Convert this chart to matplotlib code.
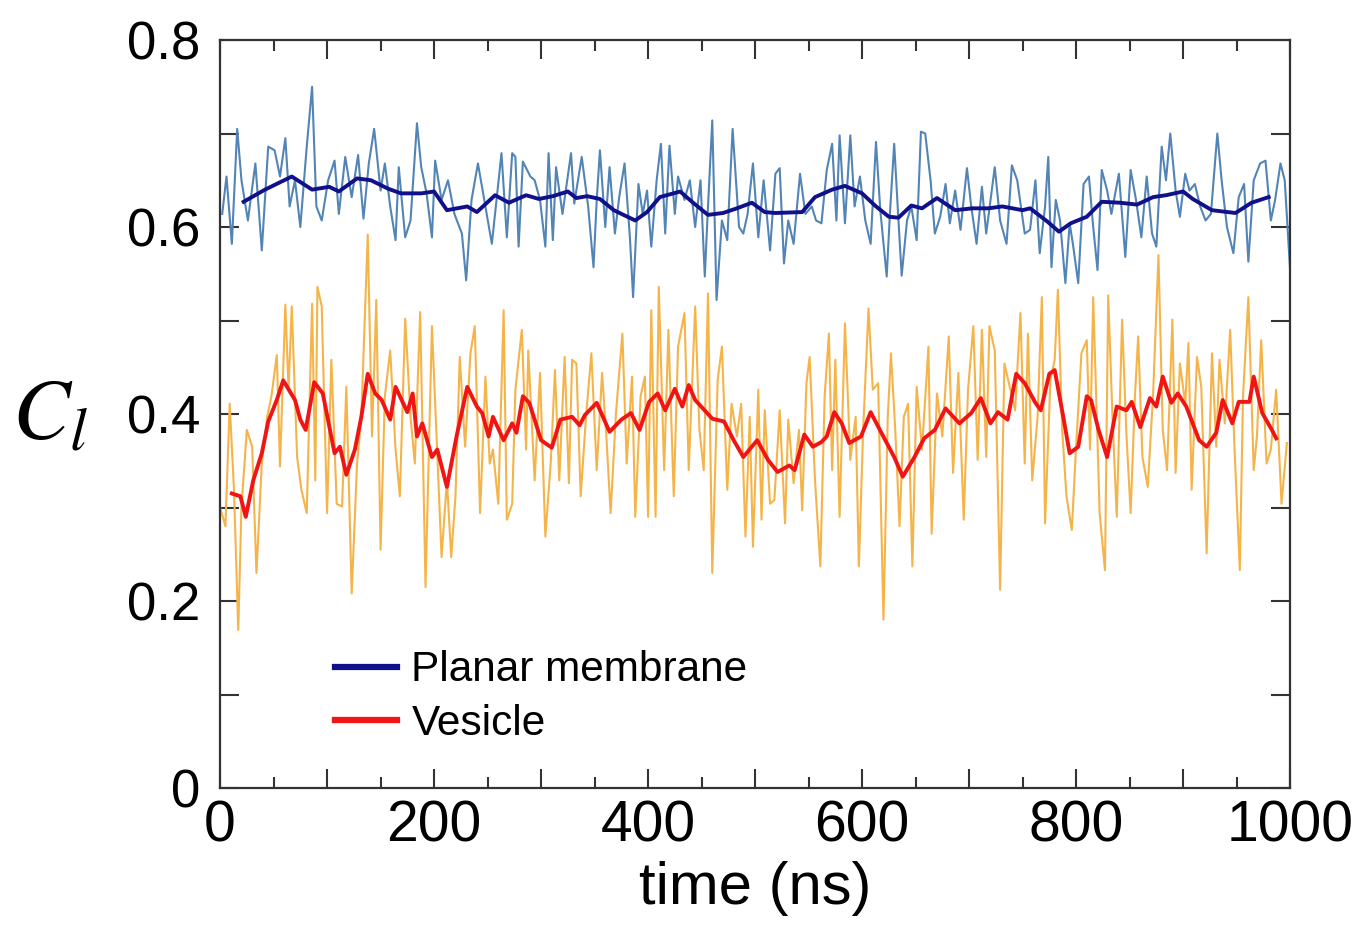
import matplotlib
matplotlib.use("Agg")
import matplotlib.pyplot as plt
from matplotlib.ticker import MultipleLocator, FuncFormatter

# ---------------- data ----------------
planar_t = [2, 6, 11, 16, 20, 26, 33, 39, 45, 51, 56, 61, 65, 70, 75, 81, 86, 90, 95, 101,
            107, 111, 117, 123, 129, 134, 139, 144, 150, 154, 159, 164, 167, 173, 178, 184, 188, 193, 198, 201,
            207, 213, 219, 226, 230, 235, 241, 248, 254,
            263, 268, 273, 276, 279, 283, 290, 294, 299, 304, 307, 311, 314, 320, 328, 331, 338, 344, 349, 352,
            355, 360, 364, 369, 373, 378, 383, 386, 391, 395, 399, 403, 408, 412, 416, 420, 425, 428, 434, 439,
            444, 449, 453, 456, 460, 464, 469, 474, 479, 485, 489, 493, 498, 503,
            508, 514, 519, 523, 527, 531, 536, 542, 547, 553, 557, 562, 567, 572, 576, 579, 584, 589, 593, 598,
            603, 608, 613, 617, 623, 626, 630, 634, 637, 642, 646, 651, 655, 659, 664, 668, 673, 678, 682, 687,
            692, 698, 702, 707, 712, 716, 724, 729, 735, 740, 745,
            752, 757, 762, 766, 771, 774, 777, 781, 785, 790, 794, 797, 802, 807, 812, 816, 820, 824, 829, 833,
            840, 846, 851, 856, 861, 866, 871, 875, 880, 884, 888, 893, 897, 902, 906, 911, 916, 921, 926, 932,
            936, 941, 947, 952, 957, 961, 966, 972, 977, 982, 986, 991, 995, 1000]
planar_raw = [0.614, 0.654, 0.582, 0.705, 0.650, 0.607, 0.668, 0.575, 0.686, 0.682, 0.654, 0.695, 0.622, 0.650, 0.600, 0.686, 0.750, 0.622, 0.607, 0.650,
              0.671, 0.614, 0.675, 0.632, 0.677, 0.609, 0.668, 0.705, 0.639, 0.668, 0.622, 0.586, 0.664, 0.589, 0.607, 0.711, 0.664, 0.636, 0.589, 0.671,
              0.629, 0.650, 0.614, 0.593, 0.543, 0.629, 0.668, 0.622, 0.582,
              0.679, 0.589, 0.679, 0.675, 0.579, 0.670, 0.654, 0.650, 0.629, 0.579, 0.679, 0.586, 0.664, 0.614, 0.679, 0.625, 0.675, 0.622, 0.557, 0.629,
              0.682, 0.600, 0.664, 0.593, 0.632, 0.668, 0.589, 0.525, 0.646, 0.614, 0.639, 0.579, 0.650, 0.689, 0.593, 0.687, 0.614, 0.654, 0.629, 0.650,
              0.600, 0.650, 0.547, 0.622, 0.714, 0.522, 0.607, 0.586, 0.705, 0.600, 0.593, 0.614, 0.668, 0.589,
              0.650, 0.575, 0.657, 0.663, 0.561, 0.607, 0.582, 0.657, 0.614, 0.622, 0.607, 0.604, 0.661, 0.689, 0.607, 0.698, 0.604, 0.698, 0.622, 0.654,
              0.607, 0.582, 0.691, 0.618, 0.547, 0.614, 0.689, 0.607, 0.548, 0.607, 0.622, 0.586, 0.702, 0.700, 0.650, 0.593, 0.611, 0.646, 0.604, 0.639,
              0.597, 0.663, 0.622, 0.582, 0.643, 0.593, 0.664, 0.607, 0.582, 0.666, 0.650,
              0.593, 0.597, 0.650, 0.572, 0.622, 0.675, 0.557, 0.629, 0.607, 0.540, 0.604, 0.582, 0.540, 0.646, 0.654, 0.600, 0.554, 0.661, 0.639, 0.614,
              0.657, 0.568, 0.661, 0.629, 0.589, 0.654, 0.593, 0.579, 0.686, 0.650, 0.700, 0.639, 0.611, 0.657, 0.639, 0.646, 0.622, 0.607, 0.614, 0.700,
              0.650, 0.600, 0.572, 0.632, 0.646, 0.563, 0.650, 0.668, 0.671, 0.607, 0.629, 0.668, 0.650, 0.554]

planar_avg_t = [22, 42, 67, 86, 102, 111, 128, 141, 157, 169, 188, 200, 212, 231, 240, 257, 270, 286, 298, 311,
                325, 333, 343, 355, 368, 377, 388, 399, 411, 430, 442, 456, 470, 483, 497, 509, 519, 544, 556, 572,
                584, 600, 612, 625, 634, 646, 656, 670, 687, 703, 718, 731, 750, 757, 773, 784, 795, 810, 824, 841,
                857, 872, 884, 900, 909, 927, 949, 964, 980]
planar_avg = [0.627, 0.640, 0.654, 0.640, 0.643, 0.638, 0.652, 0.650, 0.641, 0.636, 0.636, 0.638, 0.618, 0.622, 0.616, 0.634, 0.626, 0.634, 0.630, 0.633,
              0.638, 0.631, 0.633, 0.630, 0.618, 0.613, 0.607, 0.616, 0.632, 0.638, 0.626, 0.613, 0.615, 0.620, 0.626, 0.616, 0.615, 0.616, 0.632, 0.640,
              0.644, 0.636, 0.623, 0.611, 0.610, 0.623, 0.620, 0.631, 0.618, 0.620, 0.620, 0.622, 0.618, 0.620, 0.606, 0.595, 0.604, 0.611, 0.627, 0.626,
              0.624, 0.632, 0.634, 0.638, 0.630, 0.618, 0.615, 0.626, 0.632]

vesicle_t = [0, 5, 9, 13, 17, 20, 25, 30, 34, 39, 44, 48, 53, 56, 61, 64, 67, 72, 76, 81,
             86, 89, 91, 95, 100, 104, 109, 114, 118, 123, 128, 132, 138, 142, 146, 150, 154, 159, 164, 168,
             173, 178, 182, 187, 192, 198, 202, 207, 212, 216, 220, 224, 229, 234, 238, 243, 248, 252,
             255, 260, 265, 268, 273, 276, 282, 286, 288, 294, 299, 304, 309, 313, 317, 322, 326, 329, 333, 337,
             342, 347, 352, 357, 361, 365, 370, 376, 380, 385, 388, 393, 397, 400, 403, 407, 410, 415, 419, 424,
             428, 434, 438, 444, 448, 452, 456, 460, 465, 469, 474, 478, 483, 487, 491, 495, 498, 503,
             506, 509, 514, 518, 523, 528, 531, 536, 541, 544, 548, 551, 556, 561, 565, 569, 572, 575, 579, 584,
             589, 594, 597, 601, 606, 610, 615, 620, 624, 627, 631, 635, 639, 643, 647, 651, 656, 662, 665, 670,
             675, 681, 685, 690, 695, 699, 704, 708, 712, 716, 719, 724, 729, 733, 738, 743, 748,
             752, 755, 759, 764, 768, 771, 776, 780, 783, 787, 791, 796, 800, 805, 810, 813, 816, 822, 827, 830,
             834, 838, 843, 847, 851, 855, 858, 862, 867, 872, 877, 881, 885, 890, 893, 897, 902, 905, 908, 913,
             917, 922, 927, 931, 934, 939, 944, 948, 953, 956, 961, 966, 969, 973, 978, 982, 987, 992, 997]
vesicle_raw = [0.300, 0.280, 0.411, 0.319, 0.169, 0.301, 0.383, 0.365, 0.230, 0.347, 0.397, 0.419, 0.463, 0.344, 0.517, 0.426, 0.515, 0.354, 0.319, 0.294,
               0.518, 0.329, 0.536, 0.515, 0.294, 0.458, 0.304, 0.301, 0.429, 0.208, 0.347, 0.397, 0.592, 0.376, 0.522, 0.255, 0.419, 0.468, 0.362, 0.312,
               0.502, 0.397, 0.347, 0.509, 0.215, 0.494, 0.383, 0.247, 0.329, 0.247, 0.312, 0.461, 0.365, 0.465, 0.494, 0.294, 0.440, 0.347,
               0.362, 0.304, 0.511, 0.287, 0.304, 0.426, 0.490, 0.362, 0.468, 0.329, 0.444, 0.269, 0.347, 0.447, 0.329, 0.461, 0.326, 0.458, 0.454, 0.312,
               0.397, 0.465, 0.340, 0.444, 0.376, 0.294, 0.401, 0.486, 0.347, 0.440, 0.290, 0.419, 0.440, 0.290, 0.511, 0.290, 0.536, 0.340, 0.490, 0.312,
               0.472, 0.508, 0.340, 0.515, 0.383, 0.340, 0.529, 0.230, 0.436, 0.472, 0.319, 0.411, 0.376, 0.411, 0.269, 0.397, 0.258, 0.426,
               0.287, 0.404, 0.304, 0.308, 0.404, 0.283, 0.394, 0.326, 0.383, 0.297, 0.433, 0.461, 0.329, 0.237, 0.419, 0.486, 0.340, 0.458, 0.290, 0.497,
               0.351, 0.397, 0.237, 0.383, 0.513, 0.426, 0.433, 0.180, 0.397, 0.465, 0.383, 0.280, 0.397, 0.411, 0.237, 0.429, 0.362, 0.472, 0.272, 0.422,
               0.376, 0.483, 0.337, 0.444, 0.287, 0.426, 0.494, 0.351, 0.490, 0.354, 0.494, 0.468, 0.212, 0.454, 0.429, 0.404, 0.508,
               0.347, 0.486, 0.329, 0.397, 0.525, 0.283, 0.436, 0.458, 0.533, 0.383, 0.312, 0.276, 0.365, 0.465, 0.479, 0.362, 0.525, 0.294, 0.233, 0.527,
               0.397, 0.290, 0.501, 0.379, 0.294, 0.419, 0.483, 0.354, 0.322, 0.422, 0.570, 0.383, 0.340, 0.501, 0.337, 0.454, 0.411, 0.476, 0.319, 0.461,
               0.429, 0.251, 0.465, 0.365, 0.458, 0.390, 0.490, 0.365, 0.233, 0.419, 0.525, 0.340, 0.376, 0.479, 0.347, 0.362, 0.426, 0.304, 0.369]

vesicle_avg_t = [11, 19, 24, 31, 39, 45, 53, 59, 70, 75, 80, 88, 96, 107, 112, 118, 126, 132, 138, 145,
                 151, 159, 164, 175, 180, 184, 189, 198, 203, 212, 221, 231, 240, 245, 251, 255, 265, 273, 277, 283,
                 289, 300, 310, 318, 329, 336, 341, 352, 364, 375, 384, 392, 401, 409, 416, 425, 432, 438, 444, 460,
                 471, 480, 489, 502, 512, 521, 532, 537, 546, 554, 562, 567, 574, 581, 588, 599, 608, 618, 630, 638,
                 649, 658, 668, 678, 691, 702, 711, 720, 727, 736, 744, 752, 762, 767, 775, 780, 788, 794, 802, 810,
                 814, 821, 829, 838, 847, 852, 860, 869, 875, 881, 889, 895, 903, 915, 922, 931, 937, 946, 952, 962,
                 966, 974, 983, 987]
vesicle_avg = [0.315, 0.312, 0.290, 0.329, 0.358, 0.392, 0.415, 0.436, 0.415, 0.394, 0.383, 0.434, 0.422, 0.358, 0.365, 0.335, 0.362, 0.397, 0.443, 0.422,
               0.415, 0.394, 0.429, 0.402, 0.422, 0.376, 0.390, 0.354, 0.362, 0.322, 0.376, 0.429, 0.408, 0.401, 0.376, 0.397, 0.372, 0.390, 0.380, 0.419,
               0.412, 0.372, 0.364, 0.394, 0.397, 0.388, 0.399, 0.412, 0.381, 0.394, 0.401, 0.383, 0.413, 0.422, 0.404, 0.427, 0.408, 0.431, 0.415, 0.395,
               0.392, 0.372, 0.354, 0.372, 0.351, 0.338, 0.345, 0.340, 0.378, 0.365, 0.370, 0.376, 0.402, 0.390, 0.369, 0.376, 0.402, 0.380, 0.354, 0.333,
               0.354, 0.374, 0.383, 0.406, 0.390, 0.401, 0.417, 0.390, 0.402, 0.394, 0.443, 0.433, 0.412, 0.404, 0.443, 0.447, 0.397, 0.358, 0.365, 0.419,
               0.415, 0.383, 0.354, 0.408, 0.404, 0.413, 0.386, 0.417, 0.408, 0.440, 0.412, 0.422, 0.408, 0.372, 0.365, 0.380, 0.415, 0.390, 0.413, 0.413,
               0.440, 0.401, 0.383, 0.374]

legend_labels = ["Planar membrane", "Vesicle"]
x_tick_labels = ["0", "200", "400", "600", "800", "1000"]
y_tick_labels = ["0", "0.2", "0.4", "0.6", "0.8"]

# ---------------- figure ----------------
fig = plt.figure(figsize=(13.61, 9.33), dpi=100)
ax = fig.add_axes([0.1617, 0.1554, 0.7862, 0.8017])

c_blue_raw = "#5384b6"
c_blue_avg = "#10108a"
c_orange = "#f5b44a"
c_red = "#f01414"

ax.plot(planar_t, planar_raw, color=c_blue_raw, lw=1.5, zorder=2)
ax.plot(vesicle_t, vesicle_raw, color=c_orange, lw=1.5, zorder=2)
l1, = ax.plot(planar_avg_t, planar_avg, color=c_blue_avg, lw=2.8, zorder=3)
l2, = ax.plot(vesicle_avg_t, vesicle_avg, color=c_red, lw=2.8, zorder=3)

ax.set_xlim(0, 1000)
ax.set_ylim(0, 0.8)

# ticks
ax.xaxis.set_major_locator(MultipleLocator(100))
ax.xaxis.set_minor_locator(MultipleLocator(50))
ax.yaxis.set_major_locator(MultipleLocator(0.1))
xlab = dict(zip([0, 200, 400, 600, 800, 1000], x_tick_labels))
ylab = dict(zip([0, 2, 4, 6, 8], y_tick_labels))
ax.xaxis.set_major_formatter(FuncFormatter(lambda v, p: xlab.get(int(round(v)), "")))
ax.yaxis.set_major_formatter(FuncFormatter(lambda v, p: ylab.get(int(round(v * 10)), "")))

ax.tick_params(axis="both", which="both", direction="in", top=True, right=True, color="#333333", width=1.5)
ax.tick_params(axis="both", which="major", length=14)
ax.tick_params(axis="x", which="minor", length=8)
ax.tick_params(axis="x", which="major", pad=8)
ax.tick_params(axis="y", which="major", pad=14)

for lab in ax.get_xticklabels():
    lab.set_family(["Liberation Sans", "DejaVu Sans"])
    lab.set_fontsize(41)
for lab in ax.get_yticklabels():
    lab.set_family(["Liberation Sans", "DejaVu Sans"])
    lab.set_fontsize(38)

for s in ax.spines.values():
    s.set_color("#333333")
    s.set_linewidth(1.6)

ax.set_xlabel("time (ns)", fontsize=43, family=["Liberation Sans", "DejaVu Sans"], labelpad=6)

plt.rcParams["mathtext.fontset"] = "stix"
fig.text(0.037, 0.555, r"$C_l$", fontsize=62, ha="center", va="center")

leg = ax.legend([l1, l2], legend_labels, loc="lower left", bbox_to_anchor=(0.072, 0.008),
                frameon=False, handlelength=1.45, handletextpad=0.35, labelspacing=0.32,
                prop={"family": ["Liberation Sans", "DejaVu Sans"], "size": 30.5})
for h in leg.legend_handles:
    h.set_linewidth(4.5)

fig.savefig("out.png", dpi=100)
